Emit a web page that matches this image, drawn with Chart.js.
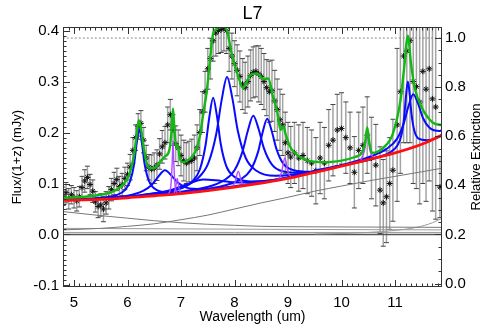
<!DOCTYPE html>
<html>
<head>
<meta charset="utf-8">
<title>L7</title>
<script src="https://cdn.jsdelivr.net/npm/chart.js@4.4.0/dist/chart.umd.min.js"></script>
<style>
  body { margin: 0; background: #fff; }
</style>
</head>
<body>
<canvas id="chart" width="491" height="327"></canvas>
<script>
// ---- labels ----
const chartTitle = 'L7';
const xTitle = 'Wavelength (um)';
const yTitle = 'Flux/(1+z) (mJy)';
const y2Title = 'Relative Extinction';

// ---- axes ----
const xRange = [4.794, 11.878];
const yRange = [-0.103, 0.407];
const y2Range = [-0.014, 1.045];
const xTicks = [5, 6, 7, 8, 9, 10, 11];
const yTicks = [-0.1, 0.0, 0.1, 0.2, 0.3, 0.4];
const y2Ticks = [0.0, 0.2, 0.4, 0.6, 0.8, 1.0];

// ---- observed spectrum (um, mJy) ----
const wave = [4.80,4.85,4.90,4.95,5.00,5.05,5.10,5.15,5.20,5.25,5.30,5.35,5.40,5.45,5.50,5.55,5.60,5.65,5.70,5.75,5.80,5.85,5.90,5.95,
  6.00,6.05,6.10,6.15,6.20,6.25,6.30,6.35,6.40,6.45,6.50,6.55,6.60,6.65,6.70,6.75,6.80,6.85,6.90,6.95,
  7.00,7.05,7.10,7.15,7.20,7.25,7.30,7.35,7.40,7.45,7.50,7.55,7.60,7.65,7.70,7.75,7.80,7.85,7.90,7.95,
  8.00,8.05,8.10,8.15,8.20,8.25,8.30,8.35,8.40,8.45,8.50,8.55,8.60,8.65,8.70,8.75,8.80,8.85,8.90,8.95,9.00,9.05,
  9.12,9.20,9.28,9.36,9.44,9.52,9.60,9.68,9.76,9.84,9.92,10.00,10.08,10.16,10.24,10.32,10.40,10.48,10.56,10.64,10.72,10.78,10.84,10.90,10.96,
  11.04,11.10,11.16,11.22,11.28,11.34,11.40,11.46,11.52,11.58,11.64,11.70,11.76,11.84];
const flux = [0.075,0.082,0.070,0.078,0.072,0.066,0.074,0.092,0.105,0.112,0.098,0.085,0.064,0.055,0.058,0.050,0.062,0.072,0.088,0.100,0.108,0.094,0.098,0.110,
  0.118,0.132,0.165,0.190,0.212,0.218,0.185,0.150,0.132,0.128,0.130,0.136,0.158,0.172,0.180,0.215,0.235,0.205,0.178,0.170,
  0.155,0.145,0.140,0.143,0.145,0.150,0.170,0.200,0.240,0.280,0.325,0.345,0.380,0.395,0.400,0.402,0.405,0.400,0.365,0.350,
  0.335,0.322,0.310,0.295,0.288,0.300,0.312,0.318,0.320,0.315,0.310,0.300,0.288,0.280,0.282,0.262,0.245,0.225,0.215,0.180,0.160,0.152,
  0.160,0.150,0.155,0.145,0.140,0.125,0.150,0.140,0.175,0.185,0.205,0.208,0.190,0.170,0.122,0.165,0.175,0.195,0.150,0.136,0.087,0.062,0.074,0.100,0.126,
  0.215,0.280,0.350,0.360,0.380,0.300,0.290,0.260,0.320,0.285,0.325,0.266,0.250,0.093];
const fluxErr = [0.018,0.020,0.020,0.018,0.020,0.020,0.020,0.022,0.022,0.022,0.020,0.022,0.020,0.022,0.022,0.025,0.022,0.022,0.022,0.022,0.022,0.020,0.022,0.022,
  0.022,0.025,0.025,0.025,0.025,0.025,0.025,0.025,0.025,0.028,0.030,0.030,0.030,0.032,0.032,0.035,0.030,0.030,0.035,0.035,
  0.040,0.040,0.040,0.040,0.042,0.045,0.045,0.045,0.040,0.040,0.040,0.040,0.040,0.045,0.045,0.045,0.045,0.045,0.045,0.045,
  0.045,0.050,0.050,0.050,0.050,0.050,0.050,0.050,0.050,0.055,0.055,0.055,0.055,0.060,0.060,0.060,0.060,0.060,0.060,0.060,0.060,0.060,
  0.060,0.065,0.065,0.065,0.065,0.065,0.070,0.070,0.070,0.070,0.070,0.070,0.070,0.070,0.070,0.075,0.075,0.075,0.080,0.080,0.085,0.085,0.090,0.090,0.100,
  0.150,0.160,0.170,0.180,0.200,0.200,0.200,0.200,0.220,0.220,0.220,0.220,0.220,0.060];

// ---- fit: total model (green) ----
const total = [[4.79,0.072],[5.2,0.074],[5.5,0.078],[5.7,0.083],[5.85,0.092],[5.95,0.102],[6.05,0.123],[6.12,0.155],[6.17,0.195],[6.21,0.224],[6.25,0.21],[6.3,0.172],[6.36,0.14],[6.42,0.13],[6.5,0.13],[6.6,0.142],[6.7,0.153],[6.78,0.165],[6.82,0.2],[6.85,0.247],[6.88,0.2],[6.91,0.172],[6.94,0.175],[6.97,0.153],[7.02,0.142],[7.1,0.144],[7.2,0.152],[7.3,0.171],[7.36,0.198],[7.42,0.24],[7.48,0.28],[7.54,0.34],[7.6,0.394],[7.67,0.403],[7.78,0.408],[7.86,0.4],[7.95,0.353],[8.07,0.31],[8.16,0.287],[8.29,0.312],[8.42,0.316],[8.54,0.305],[8.63,0.306],[8.72,0.27],[8.8,0.24],[8.86,0.205],[8.91,0.212],[8.96,0.195],[9.04,0.172],[9.22,0.152],[9.6,0.142],[10.0,0.145],[10.25,0.152],[10.38,0.16],[10.44,0.18],[10.48,0.21],[10.52,0.18],[10.57,0.16],[10.78,0.17],[10.96,0.198],[11.1,0.262],[11.17,0.326],[11.24,0.39],[11.3,0.334],[11.37,0.287],[11.5,0.249],[11.7,0.22],[11.88,0.214]];

// ---- fit: total continuum (red) ----
const continuum = [[4.79,0.067],[5.5,0.069],[6.0,0.072],[6.5,0.076],[7.0,0.080],[7.5,0.086],[8.0,0.093],[8.5,0.101],[9.0,0.110],[9.5,0.122],[10.0,0.134],[10.5,0.147],[11.0,0.160],[11.5,0.177],[11.88,0.195]];

// ---- fit: PAH features on continuum (blue) ----
const pah622 = [[4.79,0.0685],[5.4,0.071],[5.8,0.0775],[5.95,0.087],[6.05,0.105],[6.12,0.136],[6.17,0.178],[6.22,0.207],[6.27,0.179],[6.32,0.138],[6.40,0.105],[6.55,0.087],[6.8,0.0825],[7.2,0.084]];
const pah669 = [[5.4,0.071],[6.0,0.076],[6.3,0.086],[6.45,0.097],[6.55,0.110],[6.7,0.126],[6.85,0.112],[6.95,0.101],[7.1,0.092],[7.4,0.089],[7.8,0.092],[8.5,0.102]];
const pah742 = [[5.6,0.071],[6.4,0.079],[6.8,0.087],[7.1,0.098],[7.42,0.108],[7.75,0.105],[8.05,0.102],[8.4,0.103],[9.0,0.112],[9.8,0.131]];
const pah760 = [[6.0,0.073],[6.4,0.077],[6.9,0.087],[7.2,0.103],[7.35,0.127],[7.46,0.176],[7.53,0.231],[7.6,0.268],[7.67,0.233],[7.74,0.179],[7.85,0.133],[8.0,0.113],[8.3,0.104],[8.8,0.108],[9.5,0.124]];
const pah785 = [[5.8,0.071],[6.36,0.079],[6.96,0.090],[7.31,0.110],[7.51,0.140],[7.66,0.198],[7.76,0.264],[7.86,0.309],[7.96,0.267],[8.06,0.204],[8.21,0.150],[8.41,0.125],[8.76,0.115],[9.36,0.121],[10.2,0.141]];
const pah833 = [[6.2,0.074],[6.85,0.082],[7.45,0.092],[7.8,0.106],[8.0,0.126],[8.15,0.163],[8.25,0.204],[8.35,0.233],[8.45,0.207],[8.55,0.169],[8.7,0.137],[8.9,0.124],[9.25,0.121],[9.85,0.132],[10.6,0.150]];
const pah861 = [[6.6,0.078],[7.31,0.086],[7.81,0.096],[8.11,0.108],[8.31,0.128],[8.44,0.162],[8.525,0.200],[8.61,0.227],[8.695,0.203],[8.78,0.169],[8.91,0.139],[9.11,0.126],[9.41,0.123],[9.91,0.133],[10.6,0.149]];
const pah1123 = [[10.0,0.135],[10.64,0.150],[10.89,0.160],[11.04,0.174],[11.12,0.195],[11.172,0.231],[11.206,0.273],[11.24,0.300],[11.274,0.275],[11.308,0.236],[11.36,0.204],[11.44,0.188],[11.59,0.185],[11.84,0.193],[11.88,0.197]];
const pah1133 = [[9.5,0.125],[10.04,0.137],[10.54,0.153],[10.84,0.168],[11.04,0.188],[11.16,0.217],[11.25,0.251],[11.34,0.275],[11.43,0.257],[11.52,0.229],[11.64,0.210],[11.84,0.203],[11.88,0.205]];

// ---- fit: atomic / H2 lines on continuum (violet) ----
const line685 = [[6.76,0.079],[6.81,0.095],[6.835,0.140],[6.85,0.184],[6.865,0.140],[6.89,0.095],[6.93,0.080]];
const line693 = [[6.87,0.080],[6.90,0.092],[6.93,0.110],[6.96,0.092],[6.99,0.081]];
const line807 = [[7.95,0.093],[8.01,0.103],[8.07,0.124],[8.13,0.103],[8.19,0.096]];
const line894 = [[8.82,0.108],[8.88,0.122],[8.94,0.150],[9.00,0.122],[9.06,0.112]];
const line1048 = [[10.36,0.146],[10.43,0.165],[10.48,0.198],[10.53,0.165],[10.60,0.149]];

// ---- fit: continuum components (grey) ----
const dustCool = [[4.79,0.045],[5.5,0.037],[6.0,0.032],[6.5,0.027],[7.0,0.023],[7.5,0.020],[8.0,0.018],[8.5,0.016],[9.5,0.015],[11.88,0.014]];
const dustWarm = [[4.79,0.009],[5.5,0.012],[6.0,0.016],[6.5,0.021],[7.0,0.029],[7.5,0.038],[8.0,0.050],[8.5,0.062],[9.0,0.073],[9.5,0.085],[10.0,0.095],[10.5,0.105],[11.0,0.114],[11.5,0.123],[11.88,0.130]];
const stellar = [[4.79,0.012],[7.0,0.011],[9.0,0.010],[11.88,0.009]];
const dustCold = [[4.79,0.004],[8.0,0.004],[11.88,0.004]];
const dustHot = [[9.5,0.001],[10.0,0.002],[10.5,0.004],[11.0,0.008],[11.4,0.014],[11.7,0.023],[11.88,0.032]];
const zeroLine = [[4.79,0.0],[11.88,0.0]];

// ---- extinction (right axis) ----
const extinction = [[4.79,1.0],[11.88,1.0]];

const FONT = '"Liberation Sans", Arial, Helvetica, sans-serif';
const pts = arr => arr.map(([x, y]) => ({ x: x, y: y }));

function curve(arr, color, width, order, extra) {
  return Object.assign({
    type: 'line',
    data: pts(arr),
    borderColor: color,
    borderWidth: width,
    pointRadius: 0,
    fill: false,
    cubicInterpolationMode: 'monotone',
    clip: 0,
    order: order,
    yAxisID: 'y'
  }, extra || {});
}

const BLUE = '#0a0aff', VIOLET = '#b24cff', GREY = '#8a8a8a';

const datasets = [
  curve(total, '#14b814', 2.4, 1),
  curve(continuum, '#ff1010', 2.8, 2),
  curve(line685, VIOLET, 1.4, 3),
  curve(line693, VIOLET, 1.4, 3),
  curve(line807, VIOLET, 1.4, 3),
  curve(line894, VIOLET, 1.4, 3),
  curve(line1048, VIOLET, 1.4, 3),
  curve(pah622, BLUE, 2, 4),
  curve(pah669, BLUE, 2, 4),
  curve(pah742, BLUE, 2, 4),
  curve(pah760, BLUE, 2, 4),
  curve(pah785, BLUE, 2, 4),
  curve(pah833, BLUE, 2, 4),
  curve(pah861, BLUE, 2, 4),
  curve(pah1123, BLUE, 2, 4),
  curve(pah1133, BLUE, 2, 4),
  {
    type: 'scatter',
    data: wave.map((w, i) => ({ x: w, y: flux[i] })),
    pointStyle: 'star',
    pointRadius: 3,
    pointBorderColor: '#111',
    pointBorderWidth: 1,
    showLine: false,
    clip: 0,
    order: 5,
    yAxisID: 'y'
  },
  curve(dustCool, '#777', 1, 6),
  curve(dustWarm, '#777', 1, 6),
  curve(stellar, '#999', 1, 6),
  curve(dustCold, '#999', 1, 6),
  curve(dustHot, '#999', 1, 6),
  curve(zeroLine, '#555', 1.6, 6),
  curve(extinction, GREY, 1, 6, { yAxisID: 'y2', borderDash: [2, 2] })
];

// error bars behind everything
const errorBars = {
  id: 'errorBars',
  beforeDatasetsDraw(chart) {
    const { ctx, chartArea: a, scales } = chart;
    const x = scales.x, y = scales.y;
    ctx.save();
    ctx.beginPath();
    ctx.rect(a.left, a.top, a.right - a.left, a.bottom - a.top);
    ctx.clip();
    for (let i = 0; i < wave.length; i++) {
      const px = x.getPixelForValue(wave[i]);
      const lo = y.getPixelForValue(flux[i] - fluxErr[i]);
      const hi = y.getPixelForValue(flux[i] + fluxErr[i]);
      ctx.strokeStyle = '#a3a3a3';
      ctx.lineWidth = 1.5;
      ctx.beginPath();
      ctx.moveTo(px, lo);
      ctx.lineTo(px, hi);
      ctx.stroke();
      ctx.strokeStyle = '#444';
      ctx.lineWidth = 1;
      ctx.beginPath();
      ctx.moveTo(px - 2.5, lo); ctx.lineTo(px + 2.5, lo);
      ctx.moveTo(px - 2.5, hi); ctx.lineTo(px + 2.5, hi);
      ctx.stroke();
    }
    ctx.restore();
  }
};

// IDL-style box with inward ticks + titles
const frameAndText = {
  id: 'frameAndText',
  afterDraw(chart) {
    const { ctx, chartArea: a, scales } = chart;
    const x = scales.x, y = scales.y, y2 = scales.y2;
    ctx.save();
    ctx.strokeStyle = '#333';
    ctx.lineWidth = 1;
    ctx.strokeRect(a.left + 0.5, a.top + 0.5, a.right - a.left - 1, a.bottom - a.top - 1);
    ctx.beginPath();
    for (let k = 48; k <= 118; k++) {
      const px = Math.round(x.getPixelForValue(k / 10)) + 0.5;
      const len = k % 10 === 0 ? 7 : 3.5;
      ctx.moveTo(px, a.bottom); ctx.lineTo(px, a.bottom - len);
      ctx.moveTo(px, a.top); ctx.lineTo(px, a.top + len);
    }
    for (let k = -10; k <= 40; k++) {
      const py = Math.round(y.getPixelForValue(k / 100)) + 0.5;
      const len = k % 10 === 0 ? 7 : 3.5;
      ctx.moveTo(a.left, py); ctx.lineTo(a.left + len, py);
    }
    for (let k = 0; k <= 20; k++) {
      const py = Math.round(y2.getPixelForValue(k * 0.05)) + 0.5;
      const len = k % 4 === 0 ? 7 : 3.5;
      ctx.moveTo(a.right, py); ctx.lineTo(a.right - len, py);
    }
    ctx.stroke();

    const cx = (a.left + a.right) / 2, cy = (a.top + a.bottom) / 2;
    ctx.fillStyle = '#000';
    ctx.textAlign = 'center';
    ctx.textBaseline = 'middle';
    ctx.font = '18px ' + FONT;
    ctx.fillText(chartTitle, cx, 14);
    ctx.font = '14px ' + FONT;
    ctx.fillText(xTitle, cx, a.bottom + 30);
    ctx.font = '13px ' + FONT;
    ctx.save();
    ctx.translate(17, cy);
    ctx.rotate(-Math.PI / 2);
    ctx.fillText(yTitle, 0, 0);
    ctx.restore();
    ctx.save();
    ctx.translate(476, cy);
    ctx.rotate(-Math.PI / 2);
    ctx.fillText(y2Title, 0, 0);
    ctx.restore();
    ctx.restore();
  }
};

const tickFont = { family: FONT, size: 15 };

new Chart(document.getElementById('chart'), {
  type: 'scatter',
  data: { datasets: datasets },
  options: {
    responsive: false,
    animation: false,
    devicePixelRatio: 1,
    layout: { padding: { top: 27 } },
    plugins: {
      legend: { display: false },
      tooltip: { enabled: false },
      title: { display: false }
    },
    scales: {
      x: {
        type: 'linear',
        min: xRange[0], max: xRange[1],
        grid: { display: false, drawTicks: false },
        border: { display: false },
        afterBuildTicks: s => { s.ticks = xTicks.map(v => ({ value: v })); },
        afterFit: s => { s.height = 40; },
        ticks: { font: tickFont, color: '#000', padding: 7, maxRotation: 0, autoSkip: false, callback: v => String(v) }
      },
      y: {
        type: 'linear', position: 'left',
        min: yRange[0], max: yRange[1],
        grid: { display: false, drawTicks: false },
        border: { display: false },
        afterBuildTicks: s => { s.ticks = yTicks.map(v => ({ value: v })); },
        afterFit: s => { s.width = 63; },
        ticks: { font: tickFont, color: '#000', padding: 4, callback: v => Number(v).toFixed(1) }
      },
      y2: {
        type: 'linear', position: 'right',
        min: y2Range[0], max: y2Range[1],
        grid: { display: false, drawTicks: false },
        border: { display: false },
        afterBuildTicks: s => { s.ticks = y2Ticks.map(v => ({ value: v })); },
        afterFit: s => { s.width = 49; },
        ticks: { font: tickFont, color: '#000', padding: 3, callback: v => Number(v).toFixed(1) }
      }
    }
  },
  plugins: [errorBars, frameAndText]
});
</script>
</body>
</html>
